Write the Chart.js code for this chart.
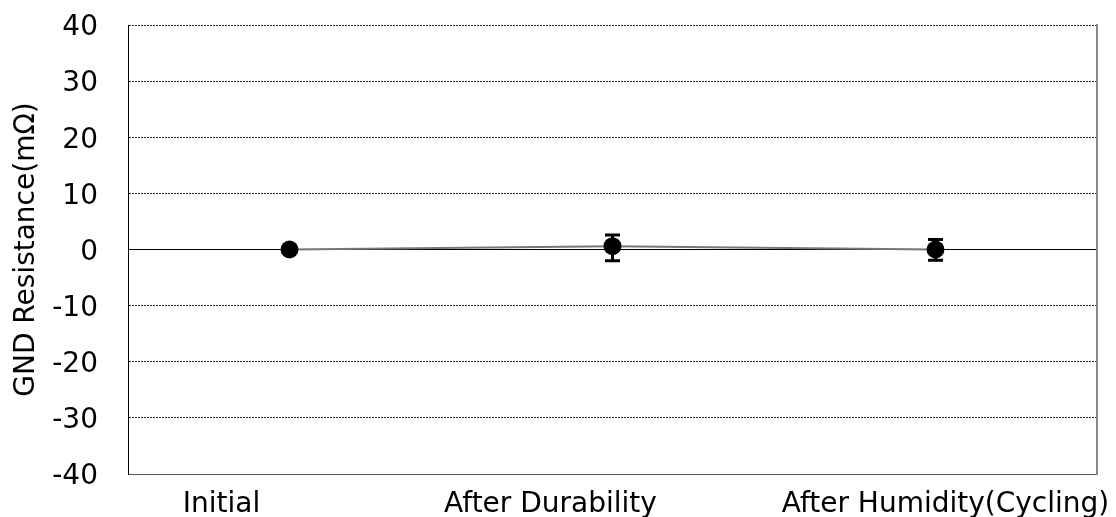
<!DOCTYPE html>
<html>
<head>
<meta charset="utf-8">
<script src="https://cdn.jsdelivr.net/npm/chart.js@4.4.1/dist/chart.umd.min.js"></script>
<style>
  html, body { margin: 0; padding: 0; background: #fff; }
</style>
</head>
<body>
<canvas id="chart" width="1116" height="517"></canvas>
<script>
const categories = ["Initial", "After Durability", "After Humidity(Cycling)"];
const meanValues = [0, 0.6, 0];
const errorUp = [0.3, 2.0, 1.8];
const errorDown = [0.3, 2.6, 1.9];
const yTicks = [-40, -30, -20, -10, 0, 10, 20, 30, 40];

const FONT = "'DejaVu Sans', Verdana, sans-serif";

// error bars, drawn with the y scale
const errorBars = {
  id: "errorBars",
  afterDatasetsDraw(chart) {
    const ctx = chart.ctx;
    const xs = chart.scales.x;
    const ys = chart.scales.y;
    ctx.save();
    ctx.strokeStyle = "#000";
    ctx.lineWidth = 3;
    meanValues.forEach((v, i) => {
      const x = xs.getPixelForValue(i);
      const top = ys.getPixelForValue(v + errorUp[i]);
      const bot = ys.getPixelForValue(v - errorDown[i]);
      ctx.beginPath();
      ctx.moveTo(x, top);
      ctx.lineTo(x, bot);
      ctx.moveTo(x - 7.5, top);
      ctx.lineTo(x + 7.5, top);
      ctx.moveTo(x - 7.5, bot);
      ctx.lineTo(x + 7.5, bot);
      ctx.stroke();
    });
    ctx.restore();
  }
};

// category labels sit a little off the points, like in the original
const labelShift = [-68, -62, 10];
const xLabels = {
  id: "xLabels",
  afterDraw(chart) {
    const ctx = chart.ctx;
    const xs = chart.scales.x;
    ctx.save();
    ctx.fillStyle = "#000";
    ctx.font = "28px " + FONT;
    ctx.textAlign = "center";
    ctx.textBaseline = "alphabetic";
    categories.forEach((c, i) => {
      ctx.fillText(c, xs.getPixelForValue(i) + labelShift[i], chart.chartArea.bottom + 38);
    });
    ctx.restore();
  }
};

new Chart(document.getElementById("chart"), {
  type: "line",
  data: {
    labels: categories,
    datasets: [{
      data: meanValues,
      borderColor: "#777",
      borderWidth: 2,
      pointRadius: 9,
      pointHoverRadius: 9,
      pointBackgroundColor: "#000",
      pointBorderColor: "#000",
      pointBorderWidth: 0,
      tension: 0
    }]
  },
  options: {
    responsive: false,
    animation: false,
    devicePixelRatio: 1,
    layout: { padding: { top: 25, right: 19, bottom: 0, left: 0 } },
    plugins: {
      legend: { display: false },
      tooltip: { enabled: false }
    },
    scales: {
      x: {
        offset: true,
        ticks: { display: false },
        grid: { drawOnChartArea: false, drawTicks: false },
        border: { color: "#555", width: 1 },
        afterFit: (s) => { s.height = 43; }
      },
      y: {
        min: -40,
        max: 40,
        afterBuildTicks: (s) => { s.ticks = yTicks.map((v) => ({ value: v })); },
        ticks: {
          color: "#000",
          font: { family: FONT, size: 28 },
          padding: 4,
          labelOffset: 3
        },
        grid: {
          color: (c) => (c.tick && c.tick.value === 0 ? "#000" : "#333"),
          lineWidth: 1,
          drawTicks: true,
          tickLength: 26,
          tickColor: "rgba(0,0,0,0)"
        },
        border: {
          color: "#000",
          width: 1,
          dash: (c) => (c.tick && c.tick.value === 0 ? [] : [2, 1])
        },
        title: {
          display: true,
          text: "GND Resistance(mΩ)",
          color: "#000",
          font: { family: FONT, size: 28 },
          padding: { top: 10, bottom: 0 }
        },
        afterFit: (s) => { s.width = 128; }
      },
      y2: {
        position: "right",
        min: -40,
        max: 40,
        ticks: { display: false },
        grid: { drawOnChartArea: false, drawTicks: false },
        border: { color: "#888", width: 2 },
        afterFit: (s) => { s.width = 0; }
      }
    }
  },
  plugins: [errorBars, xLabels]
});
</script>
</body>
</html>
